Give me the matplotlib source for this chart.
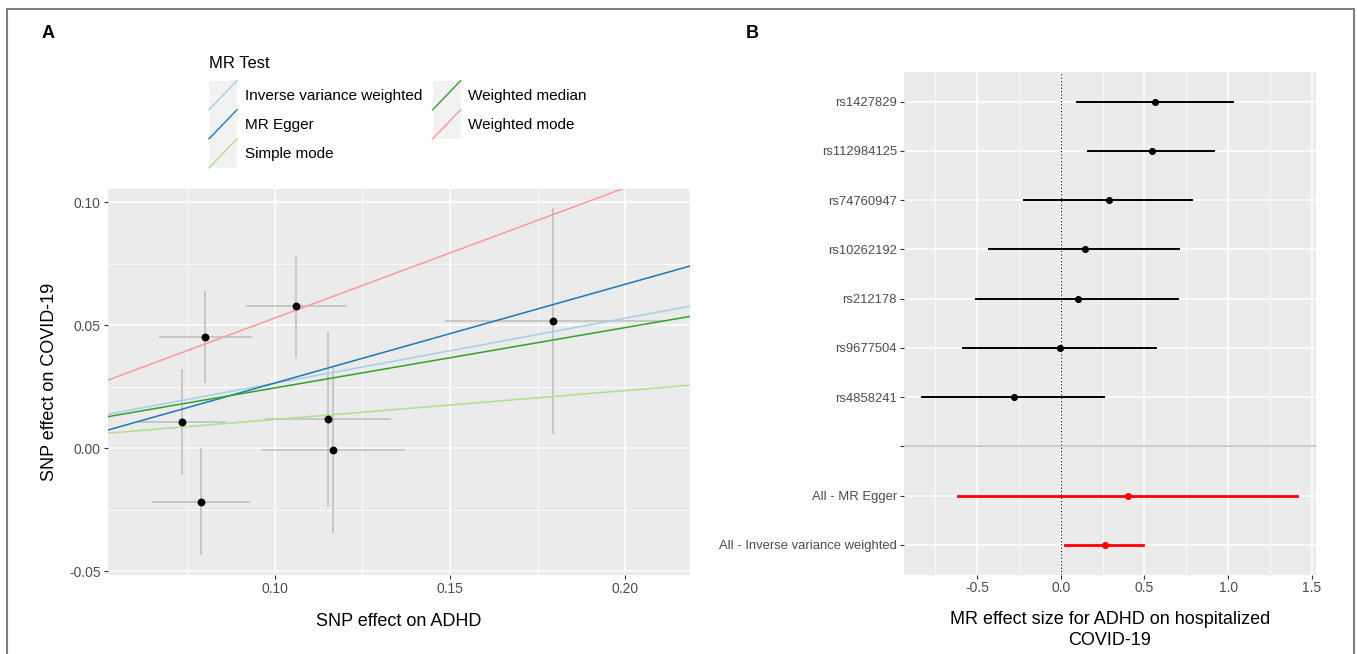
import matplotlib
matplotlib.use("Agg")
import matplotlib.pyplot as plt
import numpy as np
from matplotlib.lines import Line2D
from matplotlib.patches import Rectangle
from matplotlib.legend_handler import HandlerBase
from matplotlib.ticker import MultipleLocator

plt.rcParams['font.family'] = ['Liberation Sans', 'DejaVu Sans']

# panel A: SNP effects (ADHD exposure, COVID-19 outcome)
snp_x = [0.0801, 0.1061, 0.0735, 0.0790, 0.1152, 0.1167, 0.1795]
snp_x_se = [0.0133, 0.0145, 0.0125, 0.0140, 0.0180, 0.0205, 0.0310]
snp_y = [0.0451, 0.0576, 0.0108, -0.0217, 0.0117, -0.0009, 0.0516]
snp_y_se = [0.0188, 0.0205, 0.0215, 0.0216, 0.0355, 0.0336, 0.0458]

# MR method lines: slope, intercept
methods = ["Inverse variance weighted", "MR Egger", "Simple mode",
           "Weighted median", "Weighted mode"]
slopes = [0.264, 0.401, 0.117, 0.245, 0.529]
intercepts = [0.0, -0.0136, 0.0, 0.0, 0.0]
method_colors = ["#A6CEE3", "#1F78B4", "#B2DF8A", "#33A02C", "#FB9A99"]

# panel B: forest plot
forest_labels = ["rs1427829", "rs112984125", "rs74760947", "rs10262192",
                 "rs212178", "rs9677504", "rs4858241", "",
                 "All - MR Egger", "All - Inverse variance weighted"]
forest_b = [0.565, 0.543, 0.289, 0.143, 0.100, -0.005, -0.281, None, 0.402, 0.264]
forest_lo = [0.095, 0.161, -0.219, -0.432, -0.508, -0.585, -0.827, None, -0.613, 0.028]
forest_hi = [1.030, 0.917, 0.786, 0.709, 0.701, 0.568, 0.259, None, 1.410, 0.490]

W, H = 1357, 654
fig = plt.figure(figsize=(W / 100, H / 100), dpi=100)

PANEL = "#EBEBEB"
TXT = "#4D4D4D"


def style_axes(ax):
    ax.set_facecolor(PANEL)
    for s in ax.spines.values():
        s.set_visible(False)
    ax.grid(which="major", color="white", lw=1.1)
    ax.grid(which="minor", color="white", lw=0.55)
    ax.set_axisbelow(True)
    ax.tick_params(which="major", length=3, width=0.8, color="#333333",
                   labelcolor=TXT, labelsize=10, pad=2)
    ax.tick_params(which="minor", length=0)


# ---- panel A ----
axA = fig.add_axes([107.5 / W, 1 - 575 / H, (690 - 107.5) / W, (575 - 189) / H])
style_axes(axA)
axA.set_xlim(0.0522, 0.2185)
axA.set_ylim(-0.0515, 0.1053)
axA.xaxis.set_major_locator(MultipleLocator(0.05))
axA.xaxis.set_minor_locator(MultipleLocator(0.025))
axA.yaxis.set_major_locator(MultipleLocator(0.05))
axA.yaxis.set_minor_locator(MultipleLocator(0.025))
axA.set_xticks([0.10, 0.15, 0.20])
axA.set_xticklabels(["0.10", "0.15", "0.20"])
axA.set_yticks([-0.05, 0.0, 0.05, 0.10])
axA.set_yticklabels(["-0.05", "0.00", "0.05", "0.10"])

axA.errorbar(snp_x, snp_y, xerr=snp_x_se, yerr=snp_y_se, fmt="none",
             ecolor="#BDBDBD", elinewidth=1.1, capsize=0, zorder=2)
xs = np.array([0.0, 0.3])
handles = []
for m, b, a, c in zip(methods, slopes, intercepts, method_colors):
    ln, = axA.plot(xs, a + b * xs, color=c, lw=1.1, zorder=3, label=m)
    handles.append(ln)
axA.scatter(snp_x, snp_y, s=32, color="black", zorder=4, linewidths=0)

axA.set_xlabel("SNP effect on ADHD", fontsize=13, color="black", labelpad=12)
axA.set_ylabel("SNP effect on COVID-19", fontsize=13, color="black", labelpad=8)


class DiagKey(HandlerBase):
    def create_artists(self, legend, orig_handle, xdescent, ydescent,
                       width, height, fontsize, trans):
        bg = Rectangle((-xdescent, -ydescent), width, height,
                       facecolor="#F2F2F2", edgecolor="none", transform=trans)
        ln = Line2D([-xdescent, -xdescent + width], [-ydescent, -ydescent + height],
                    color=orig_handle.get_color(), lw=1.0, transform=trans)
        return [bg, ln]


leg = fig.legend(handles=handles, labels=methods, ncol=2,
                 loc="upper left", bbox_to_anchor=(209 / W, 1 - 56 / H),
                 frameon=False, fontsize=11, title="MR Test",
                 title_fontsize=12, alignment="left",
                 handler_map={Line2D: DiagKey()},
                 handlelength=1.83, handleheight=2.55, labelspacing=0.0,
                 handletextpad=0.5, columnspacing=0.7, borderpad=0,
                 borderaxespad=0)
leg._legend_box.sep = 7

# ---- panel B ----
axB = fig.add_axes([904 / W, 1 - 574.5 / H, (1316 - 904) / W, (574.5 - 72) / H])
style_axes(axB)
pos = np.arange(len(forest_labels))
axB.set_ylim(len(forest_labels) - 1 + 0.6, -0.6)
axB.set_xlim(-0.937, 1.525)
axB.xaxis.set_major_locator(MultipleLocator(0.5))
axB.xaxis.set_minor_locator(MultipleLocator(0.25))
axB.set_xticks([-0.5, 0.0, 0.5, 1.0, 1.5])
axB.set_xticklabels(["-0.5", "0.0", "0.5", "1.0", "1.5"])
axB.set_yticks(pos)
axB.set_yticklabels(forest_labels)
axB.tick_params(axis="y", labelsize=9.4)

axB.axvline(0, color="black", lw=0.8, ls=(0, (1, 2)), zorder=2)
for i, (lab, b, lo, hi) in enumerate(zip(forest_labels, forest_b, forest_lo, forest_hi)):
    if b is None:
        axB.axhline(i, color="#BEBEBE", lw=1.1, zorder=2)
        continue
    summary = lab.startswith("All")
    col = "red" if summary else "black"
    axB.plot([lo, hi], [i, i], color=col, lw=2.0 if summary else 1.4, zorder=3)
    axB.scatter([b], [i], s=26, color=col, zorder=4, linewidths=0)

axB.set_xlabel("MR effect size for ADHD on hospitalized\nCOVID-19", fontsize=13,
               color="black", labelpad=11, linespacing=1.3)

# panel tags
fig.text(48 / W, 1 - 33 / H, "A", fontsize=13, fontweight="bold", ha="center", va="center")
fig.text(752 / W, 1 - 33 / H, "B", fontsize=13, fontweight="bold", ha="center", va="center")

# outer frame
fig.patches.append(Rectangle((7 / W, -0.05), (1354 - 7) / W, 1.05 - 9 / H,
                             transform=fig.transFigure, fill=False,
                             edgecolor="#808080", lw=1.5))

fig.savefig("out.png", dpi=100)
